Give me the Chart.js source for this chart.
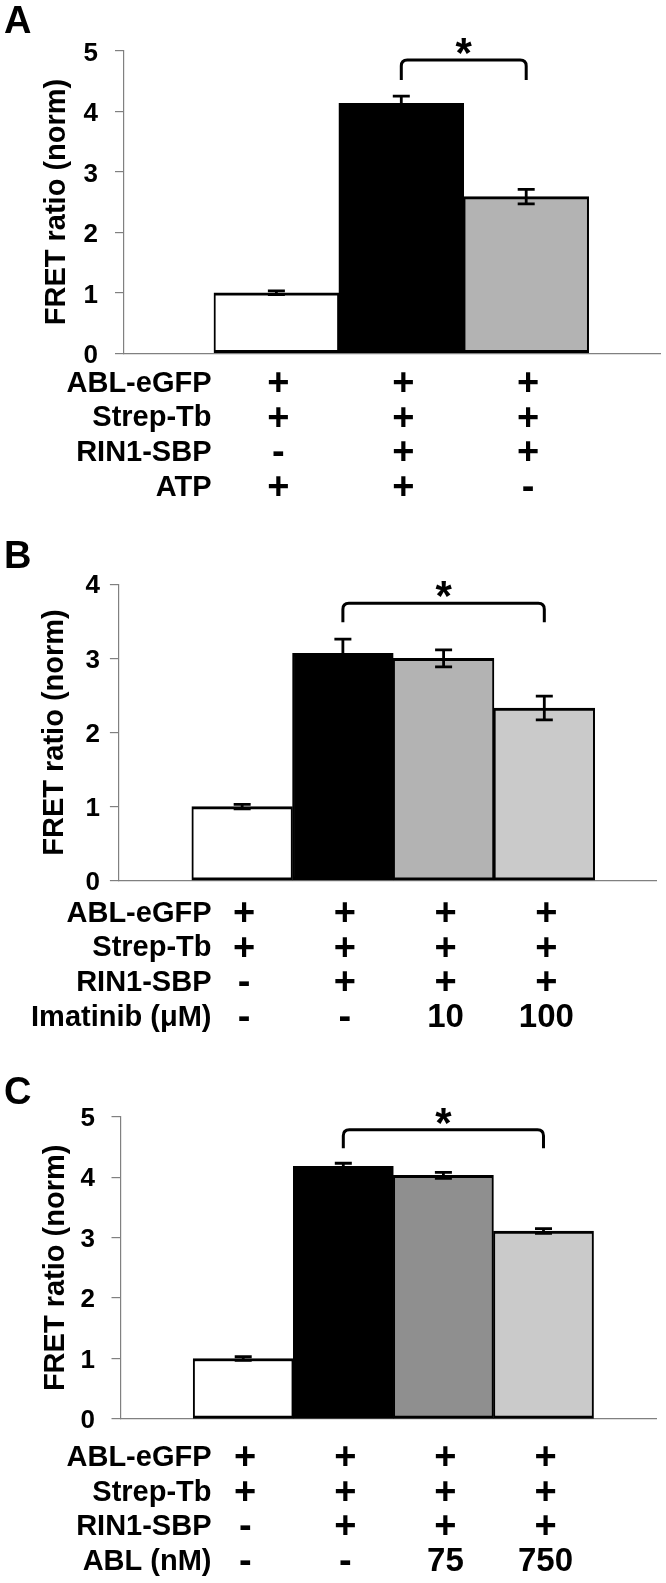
<!DOCTYPE html>
<html><head><meta charset="utf-8">
<script src="https://cdn.jsdelivr.net/npm/chart.js@4.4.1/dist/chart.umd.min.js"></script>
<style>
html,body{margin:0;padding:0;background:#fff;}
body{width:666px;height:1583px;position:relative;overflow:hidden;}
canvas{position:absolute;left:0;}
</style></head><body>
<canvas id="cA" width="666" height="530" style="top:0px"></canvas>
<canvas id="cB" width="666" height="530" style="top:530px"></canvas>
<canvas id="cC" width="666" height="523" style="top:1060px"></canvas>
<script>
// ---------- Panel A data ----------
const rowLabelsA = ['ABL-eGFP', 'Strep-Tb', 'RIN1-SBP', 'ATP'];
const marksA = [['+','+','+'], ['+','+','+'], ['-','+','+'], ['+','+','-']];
const valuesA = [1.00, 4.13, 2.59];
const errorsA = [0.03, 0.12, 0.12];
const colorsA = ['#ffffff', '#000000', '#b3b3b3'];
const yTicksA = [0, 1, 2, 3, 4, 5];

// ---------- Panel B data ----------
const rowLabelsB = ['ABL-eGFP', 'Strep-Tb', 'RIN1-SBP', 'Imatinib (μM)'];
const marksB = [['+','+','+','+'], ['+','+','+','+'], ['-','+','+','+'], ['-','-','10','100']];
const valuesB = [1.00, 3.07, 3.00, 2.33];
const errorsB = [0.03, 0.19, 0.115, 0.16];
const colorsB = ['#ffffff', '#000000', '#b3b3b3', '#cacaca'];
const yTicksB = [0, 1, 2, 3, 4];

// ---------- Panel C data ----------
const rowLabelsC = ['ABL-eGFP', 'Strep-Tb', 'RIN1-SBP', 'ABL (nM)'];
const marksC = [['+','+','+','+'], ['+','+','+','+'], ['-','+','+','+'], ['-','-','75','750']];
const valuesC = [1.00, 4.18, 4.03, 3.11];
const errorsC = [0.03, 0.05, 0.05, 0.04];
const colorsC = ['#ffffff', '#000000', '#8f8f8f', '#cacaca'];
const yTicksC = [0, 1, 2, 3, 4, 5];

// significance brackets: [fromBar, toBar, topValue, legEndValue]
const bracketA = [1, 2, 4.846, 4.516];
const bracketB = [1, 3, 3.744, 3.487];
const bracketC = [1, 3, 4.785, 4.477];

const FAM = "'Liberation Sans', Arial, Helvetica, sans-serif";

function hasFont(name) {
  const c = document.createElement('canvas').getContext('2d');
  const s = 'FRET ratio (norm) ABL';
  c.font = 'bold 40px monospace'; const w0 = c.measureText(s).width;
  c.font = 'bold 40px "' + name + '", monospace'; const w1 = c.measureText(s).width;
  return Math.abs(w0 - w1) > 0.5;
}
const NARROW = hasFont('Liberation Sans Narrow');
const TITLE_FAM = NARROW ? "'Liberation Sans Narrow', " + FAM : FAM;
const TITLE_SIZE = NARROW ? 35 : 29;

function makePanel(id, p) {
  const plugins = [
    {
      id: 'errorBars',
      afterDatasetsDraw(chart) {
        const {ctx} = chart; const x = chart.scales.x, y = chart.scales.y;
        ctx.save();
        ctx.strokeStyle = '#000'; ctx.lineWidth = 2.8;
        p.values.forEach((v, i) => {
          const cx = x.getPixelForValue(i);
          const yt = y.getPixelForValue(v + p.errors[i]);
          const yb = y.getPixelForValue(v - p.errors[i]);
          ctx.beginPath();
          ctx.moveTo(cx, yt); ctx.lineTo(cx, yb);
          ctx.moveTo(cx - 8.5, yt); ctx.lineTo(cx + 8.5, yt);
          ctx.moveTo(cx - 8.5, yb); ctx.lineTo(cx + 8.5, yb);
          ctx.stroke();
        });
        ctx.restore();
      }
    },
    {
      id: 'bracket',
      afterDraw(chart) {
        const {ctx} = chart; const x = chart.scales.x, y = chart.scales.y;
        const b = p.bracket;
        const xa = x.getPixelForValue(b[0]), xb = x.getPixelForValue(b[1]);
        const yt = y.getPixelForValue(b[2]), yl = y.getPixelForValue(b[3]);
        const r = 6;
        ctx.save();
        ctx.strokeStyle = '#000'; ctx.lineWidth = 3;
        ctx.beginPath();
        ctx.moveTo(xa, yl); ctx.lineTo(xa, yt + r);
        ctx.quadraticCurveTo(xa, yt, xa + r, yt);
        ctx.lineTo(xb - r, yt);
        ctx.quadraticCurveTo(xb, yt, xb, yt + r);
        ctx.lineTo(xb, yl);
        ctx.stroke();
        ctx.fillStyle = '#000';
        ctx.font = 'bold 42px ' + FAM;
        ctx.textAlign = 'center'; ctx.textBaseline = 'alphabetic';
        ctx.fillText('*', (xa + xb) / 2, yt - 16 + 0.55 * 42);
        ctx.restore();
      }
    },
    {
      id: 'conditions',
      afterDraw(chart) {
        const {ctx, chartArea} = chart; const x = chart.scales.x;
        ctx.save();
        ctx.fillStyle = '#000';
        ctx.textBaseline = 'middle';
        p.rowLabels.forEach((lab, r) => {
          const yy = chartArea.bottom + p.rowOffsets[r];
          ctx.font = 'bold 29px ' + FAM;
          ctx.textAlign = 'right';
          ctx.fillText(lab, 211.5, yy);
          ctx.textAlign = 'center';
          p.marks[r].forEach((m, i) => {
            const sym = (m === '+' || m === '-');
            ctx.font = 'bold ' + (sym ? 38 : 33) + 'px ' + FAM;
            ctx.fillText(m, x.getPixelForValue(i) + 2, yy + (sym ? 1 : 0));
          });
        });
        ctx.restore();
      }
    }
  ];

  const titleLH = TITLE_SIZE * 1.2;
  return new Chart(document.getElementById(id), {
    type: 'bar',
    data: {
      datasets: [{
        data: p.values.map((v, i) => ({x: i, y: v})),
        backgroundColor: p.colors,
        borderColor: '#000000',
        borderWidth: {top: 3, bottom: 3, left: 2, right: 2},
        borderSkipped: false,
        barPercentage: 1,
        categoryPercentage: 1
      }]
    },
    options: {
      responsive: false, animation: false, devicePixelRatio: 1,
      layout: {padding: {left: 4, right: p.padRight, top: 0, bottom: 0}},
      plugins: {
        legend: {display: false}, tooltip: {enabled: false},
        title: {
          display: true, text: p.letter, align: 'start', color: '#000',
          font: {family: FAM, size: 38, weight: 'bold', lineHeight: 1.2},
          padding: {top: p.letterTop, bottom: p.letterBottom}
        }
      },
      scales: {
        x: {
          type: 'linear', min: p.xMin, max: p.xMax, offset: false,
          ticks: {display: false, stepSize: 1, includeBounds: false},
          grid: {display: false},
          border: {display: true, color: '#808080', width: 1.2},
          afterFit: (s) => { s.height = p.xAxisHeight; }
        },
        y: {
          min: p.yTicks[0], max: p.yTicks[p.yTicks.length - 1],
          afterBuildTicks: (s) => { s.ticks = p.yTicks.map(v => ({value: v})); },
          ticks: {color: '#000', padding: p.tickPad, labelOffset: p.labelOffset,
                  font: {family: FAM, size: 26, weight: 'bold'}},
          grid: {drawOnChartArea: false, tickLength: 9, color: '#808080', lineWidth: 1.2},
          border: {color: '#808080', width: 1.2},
          title: {display: true, text: 'FRET ratio (norm)', color: '#000',
                  font: {family: TITLE_FAM, size: TITLE_SIZE, weight: 'bold', lineHeight: 1.2},
                  padding: {top: p.titleCenter - 4 - titleLH / 2, bottom: 0}},
          afterFit: (s) => { s.width = p.axisX - 4; }
        }
      }
    },
    plugins: plugins
  });
}

makePanel('cA', {
  letter: 'A', values: valuesA, errors: errorsA, colors: colorsA, yTicks: yTicksA,
  rowLabels: rowLabelsA, marks: marksA, bracket: bracketA,
  xMin: -1.22, xMax: 3.076, axisX: 124, padRight: 5.4, xAxisHeight: 176.7,
  letterTop: 0, letterBottom: 5.1, tickPad: 17, labelOffset: 3, titleCenter: 57.3,
  rowOffsets: [30.2, 64.9, 99.6, 134.3]
});
makePanel('cB', {
  letter: 'B', values: valuesB, errors: errorsB, colors: colorsB, yTicks: yTicksB,
  rowLabels: rowLabelsB, marks: marksB, bracket: bracketB,
  xMin: -1.224, xMax: 4.112, axisX: 118.9, padRight: 9.7, xAxisHeight: 179.3,
  letterTop: 4.5, letterBottom: 4.2, tickPad: 10, labelOffset: 2, titleCenter: 55,
  rowOffsets: [32.8, 67.5, 102.2, 136.9]
});
makePanel('cC', {
  letter: 'C', values: valuesC, errors: errorsC, colors: colorsC, yTicks: yTicksC,
  rowLabels: rowLabelsC, marks: marksC, bracket: bracketC,
  xMin: -1.226, xMax: 4.127, axisX: 120.5, padRight: 9.7, xAxisHeight: 164,
  letterTop: 11, letterBottom: 0.1, tickPad: 16.5, labelOffset: 2, titleCenter: 56.3,
  rowOffsets: [39, 74, 108, 143]
});
</script>
</body></html>
